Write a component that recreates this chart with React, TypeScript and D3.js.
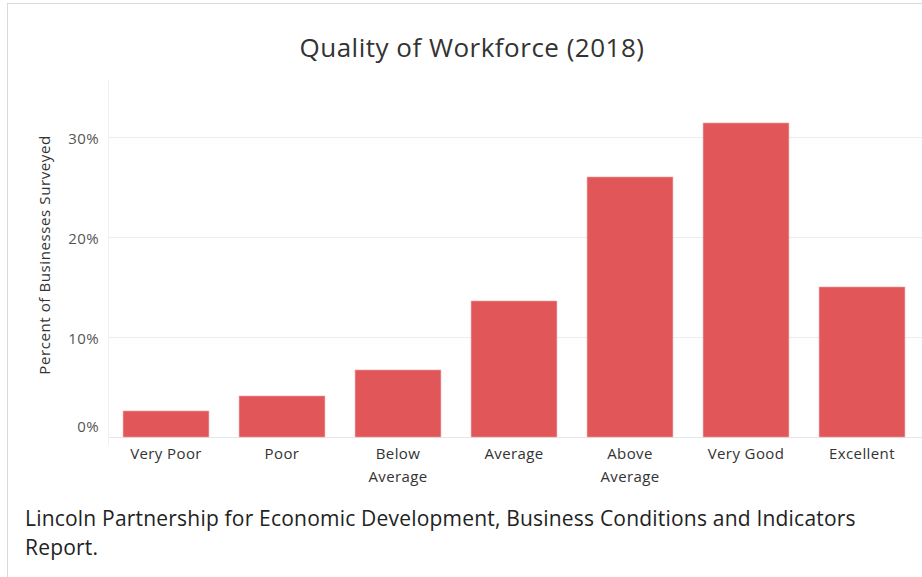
import React, { useEffect, useRef } from "react";
import * as d3 from "d3";

// values
const categories = [
  "Very Poor",
  "Poor",
  "Below Average",
  "Average",
  "Above Average",
  "Very Good",
  "Excellent",
];
const percents = [2.6, 4.1, 6.7, 13.6, 26.0, 31.4, 15.0];
const yTicks = [0, 10, 20, 30];

const title = "Quality of Workforce (2018)";
const yTitle = "Percent of Businesses Surveyed";
const captionLines = [
  "Lincoln Partnership for Economic Development, Business Conditions and Indicators",
  "Report.",
];

const App = () => {
  const svgRef = useRef<SVGSVGElement>(null);

  useEffect(() => {
    document.body.style.margin = "0";
    const width = 922;
    const height = 577;
    const left = 108;
    const right = 920;
    const top = 137;
    const bottom = 437;

    const svg = d3.select(svgRef.current);
    svg.selectAll("*").remove();
    svg
      .attr("width", width)
      .attr("height", height)
      .style("font-family", "'Open Sans', sans-serif")
      .style("background", "#fff");

    // outer frame
    svg.append("line").attr("x1", 7.5).attr("x2", 7.5).attr("y1", 3).attr("y2", height)
      .attr("stroke", "#d9d9d9");
    svg.append("line").attr("x1", 7).attr("x2", width).attr("y1", 3.5).attr("y2", 3.5)
      .attr("stroke", "#d9d9d9");

    const x = d3
      .scaleBand()
      .domain(categories)
      .range([left, right])
      .paddingInner(0.26)
      .paddingOuter(0.13);
    const y = d3.scaleLinear().domain([0, 30]).range([bottom, top]);

    // gridlines
    svg
      .append("g")
      .selectAll("line")
      .data(yTicks)
      .join("line")
      .attr("x1", left)
      .attr("x2", width)
      .attr("y1", (d) => Math.round(y(d)) + 0.5)
      .attr("y2", (d) => Math.round(y(d)) + 0.5)
      .attr("stroke", (d) => (d === 0 ? "#e6e6e6" : "#ececec"));

    // y axis line (faint)
    svg.append("line").attr("x1", left + 0.5).attr("x2", left + 0.5).attr("y1", 80).attr("y2", bottom + 8)
      .attr("stroke", "#f0f0f0");

    // y tick labels
    svg
      .append("g")
      .selectAll("text")
      .data(yTicks)
      .join("text")
      .attr("x", 99)
      .attr("y", (d) => (d === 0 ? y(d) - 10 : y(d) + 2))
      .attr("dy", "0.35em")
      .attr("text-anchor", "end")
      .attr("font-size", 15)
      .attr("letter-spacing", 0.4)
      .attr("fill", "#555")
      .text((d) => `${d}%`);

    // bars
    svg
      .append("g")
      .selectAll("rect")
      .data(percents)
      .join("rect")
      .attr("x", (d, i) => x(categories[i]) as number)
      .attr("width", x.bandwidth())
      .attr("y", (d) => y(d))
      .attr("height", (d) => y(0) - y(d))
      .attr("fill", "#e15759")
      .attr("stroke", "#e8a0a0")
      .attr("stroke-width", 0.6);

    // x labels
    svg
      .append("g")
      .selectAll("text")
      .data(categories)
      .join("text")
      .attr("text-anchor", "middle")
      .attr("font-size", 15)
      .attr("letter-spacing", 0.4)
      .attr("fill", "#333")
      .attr("transform", (d) => `translate(${(x(d) as number) + x.bandwidth() / 2},0)`)
      .selectAll("tspan")
      .data((d) => (d.includes(" ") && d !== "Very Poor" && d !== "Very Good" ? d.split(" ") : [d]))
      .join("tspan")
      .attr("x", 0)
      .attr("y", (d, i) => 459 + i * 23)
      .text((d) => d);

    // y axis title
    svg
      .append("text")
      .attr("transform", `translate(50,255) rotate(-90)`)
      .attr("text-anchor", "middle")
      .attr("font-size", 15)
      .attr("letter-spacing", 0.6)
      .attr("fill", "#333")
      .text(yTitle);

    // chart title
    svg
      .append("text")
      .attr("x", 472)
      .attr("y", 57)
      .attr("text-anchor", "middle")
      .attr("font-size", 26)
      .attr("letter-spacing", 0.5)
      .attr("fill", "#333")
      .text(title);

    // caption
    svg
      .append("g")
      .selectAll("text")
      .data(captionLines)
      .join("text")
      .attr("x", 25)
      .attr("y", (d, i) => 526 + i * 29)
      .attr("font-size", 21)
      .attr("letter-spacing", 0.2)
      .attr("fill", "#222")
      .text((d) => d);
  }, []);

  return <svg ref={svgRef}></svg>;
};

export default App;
